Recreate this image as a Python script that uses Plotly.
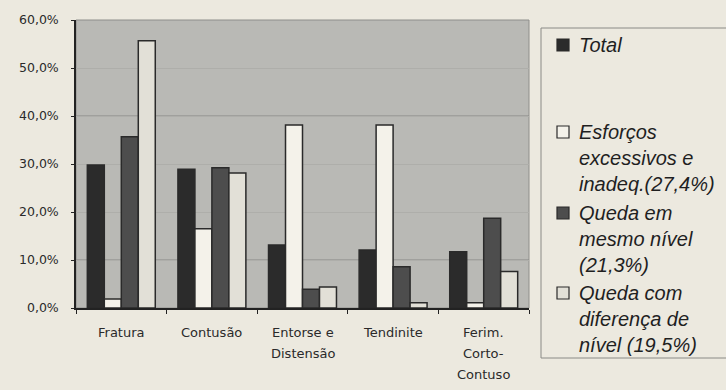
import plotly.graph_objects as go

# Categories and series (percent)
categories = ["Fratura", "Contusão", "Entorse e Distensão", "Tendinite", "Ferim. Corto-Contuso"]
category_lines = [["Fratura"], ["Contusão"], ["Entorse e", "Distensão"], ["Tendinite"], ["Ferim.", "Corto-", "Contuso"]]

total = [29.8, 28.9, 13.1, 12.1, 11.7]
esforcos = [1.9, 16.5, 38.1, 38.1, 1.1]
queda_mesmo = [35.7, 29.2, 3.9, 8.6, 18.7]
queda_dif = [55.7, 28.1, 4.4, 1.1, 7.6]

series_names = ["Total", "Esforços excessivos e inadeq.(27,4%)",
                "Queda em mesmo nível (21,3%)", "Queda com diferença de nível (19,5%)"]
legend_lines = [["Total"],
                ["Esforços", "excessivos e", "inadeq.(27,4%)"],
                ["Queda em", "mesmo nível", "(21,3%)"],
                ["Queda com", "diferença de", "nível (19,5%)"]]
series_values = [total, esforcos, queda_mesmo, queda_dif]
colors = ["#2b2b2b", "#f4f2ea", "#4d4d4d", "#e2e0d7"]

W, H = 726, 390
PL, PR, PT, PB = 76, 529, 20, 308


def px(x):
    return (x - PL) / (PR - PL)


def py(y):
    return (PB - y) / (PB - PT)


fig = go.Figure()
for name, vals, col in zip(series_names, series_values, colors):
    fig.add_trace(go.Bar(
        x=categories, y=vals, name=name,
        marker=dict(color=col, line=dict(color="#2a2a2a", width=1.5)),
        showlegend=False,
    ))

shapes = []
annotations = []

# thin frame around the plot area
shapes.append(dict(type="rect", xref="paper", yref="paper", x0=0, x1=1, y0=0, y1=1,
                   line=dict(color="#8e8e8b", width=1), layer="below"))

# stronger reference lines at 10% and 40%
for gy in (10, 40):
    shapes.append(dict(type="line", xref="paper", yref="y", x0=0, x1=1, y0=gy, y1=gy,
                       line=dict(color="#878785", width=1), layer="below"))

# category labels, one annotation per line
for cat, lines in zip(categories, category_lines):
    for i, ln in enumerate(lines):
        annotations.append(dict(
            x=cat, xref="x", y=py(332 + i * 21), yref="paper",
            text=ln, showarrow=False, xanchor="center", yanchor="middle",
            font=dict(family="DejaVu Sans", size=13, color="#2a2a2a"),
        ))

# legend box (open on the right side)
shapes.append(dict(type="path", xref="paper", yref="paper",
                   path="M {a},{t} L {l},{t} L {l},{b} L {a},{b}".format(
                       a=px(728), l=px(541), t=py(28), b=py(358)),
                   line=dict(color="#8a8a86", width=1)))

legend_tops = [45, 132, 213, 293]
for lines, col, top in zip(legend_lines, colors, legend_tops):
    shapes.append(dict(type="rect", xref="paper", yref="paper",
                       x0=px(557), x1=px(569), y0=py(top + 6), y1=py(top - 6),
                       line=dict(color="#2a2a2a", width=1.2), fillcolor=col))
    for i, ln in enumerate(lines):
        annotations.append(dict(
            x=px(577), xref="paper", y=py(top + i * 26), yref="paper",
            text="<i>" + ln + "</i>", showarrow=False, xanchor="left", yanchor="middle",
            font=dict(family="Liberation Sans", size=20, color="#1f1f1f"),
        ))

fig.update_layout(
    width=W, height=H,
    margin=dict(l=PL, r=W - PR, t=PT, b=H - PB),
    paper_bgcolor="#ece9df",
    plot_bgcolor="#b9b9b5",
    barmode="group",
    bargap=0.25,
    bargroupgap=0,
    separators=",.",
    shapes=shapes,
    annotations=annotations,
    showlegend=False,
)
fig.update_yaxes(
    range=[0, 60], dtick=10, tickformat=".1f", ticksuffix="%",
    showgrid=True, gridcolor="#aeaeaa", gridwidth=1,
    showline=True, linecolor="#222", linewidth=1.5,
    ticks="outside", ticklen=3, tickcolor="#222", ticklabelstandoff=10,
    tickfont=dict(family="DejaVu Sans", size=12.5, color="#2a2a2a"),
    zeroline=False, mirror=False,
)
fig.update_xaxes(
    showticklabels=False, showline=True, linecolor="#222", linewidth=1.5,
    ticks="outside", tickson="boundaries", ticklen=4, tickcolor="#222",
    showgrid=False,
)

fig.write_html("out.html")
